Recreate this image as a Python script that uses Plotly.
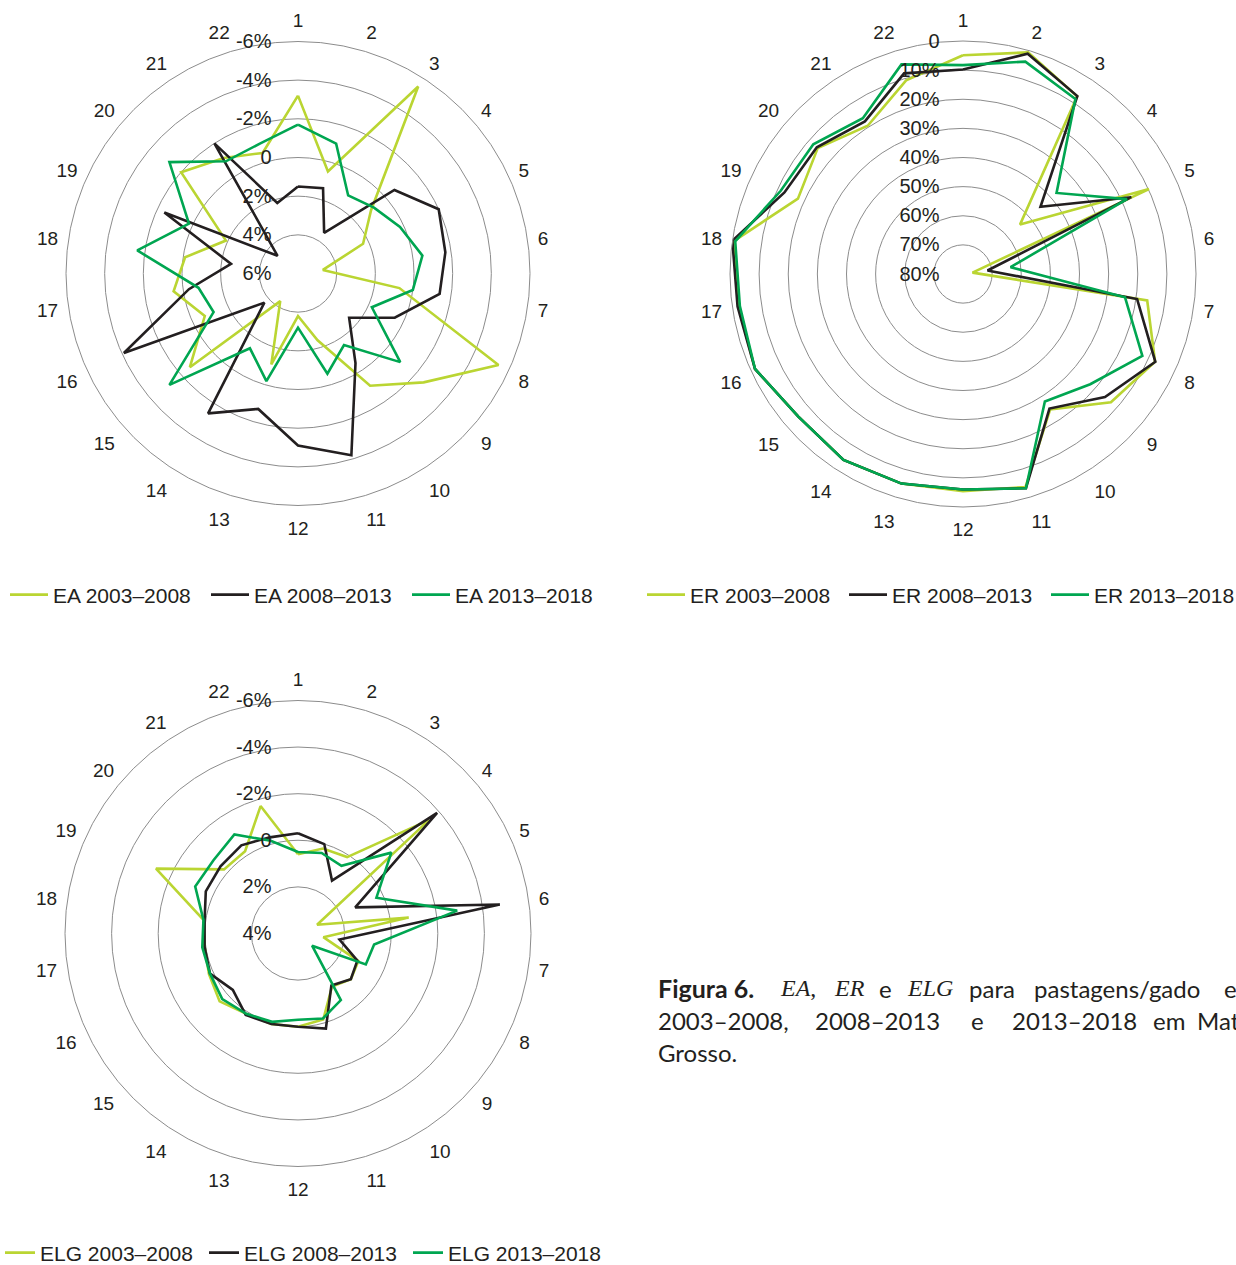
import plotly.graph_objects as go

# Axis categories (22 spokes, clockwise from the top)
categories = [str(i) for i in range(1, 23)]

# EA (%), three periods
ea_2003_2008 = [-3.2, 0.5, -5.5, 1.0, 2.3, 4.7, 0.7, -5.4, -2.6, -0.9, 2.4, 3.8,
                1.1, 4.3, -1.4, 0.7, -0.5, 0.1, 1.9, -2.0, -1.1, -0.5]
ea_2008_2013 = [1.5, 1.4, 3.5, -0.6, -2.0, -1.7, -1.4, 0.5, 2.5, 0.5, -3.8, -2.9,
                -1.3, -2.6, 3.7, -3.9, 0.3, 2.5, -1.6, 4.6, -2.0, 2.2]
ea_2013_2018 = [-1.7, -1.0, 1.2, 0.8, 0.2, -0.5, 0.0, 1.8, -1.0, 1.6, 0.6, 3.2,
                0.2, 1.4, -2.8, 1.2, 0.8, -2.4, -0.2, -2.8, -0.9, -1.0]

# ER (%), three periods
er_2003_2008 = [4.9, 0.7, 7.5, 54.1, 9.8, 76.7, 16.1, 7.5, 12.8, 24.7, 3.8, 5.4,
                5.0, 4.1, 5.2, 1.5, 2.1, 0.5, 17.7, 14.0, 19.5, 10.7]
er_2008_2013 = [9.8, 1.2, 7.4, 44.8, 16.5, 71.5, 19.6, 7.4, 15.5, 25.1, 3.3, 6.0,
                5.0, 4.1, 5.2, 1.5, 1.8, 0.0, 12.6, 13.6, 17.7, 8.2]
er_2013_2018 = [8.3, 4.0, 8.6, 37.5, 18.1, 63.5, 23.8, 12.3, 22.2, 28.0, 3.3, 6.0,
                5.0, 4.1, 5.2, 1.5, 2.6, 1.0, 11.2, 12.0, 16.4, 5.0]

# ELG (%), three periods
elg_2003_2008 = [0.6, 0.2, 0.1, -3.45, 3.1, -0.8, 2.9, 1.15, 1.0, 1.3, 0.15, 0.0,
                 -0.05, -0.1, -0.45, -0.2, -0.05, -0.1, -2.7, -0.2, -0.2, -1.7]
elg_2008_2013 = [-0.3, 0.0, 1.3, -3.9, 1.3, -4.75, 2.2, 1.2, 1.0, 1.35, -0.25, 0.0,
                 -0.05, -0.15, 0.3, -0.15, -0.05, -0.05, -0.35, -0.4, -0.5, -0.3]
elg_2013_2018 = [0.5, 0.4, 0.55, -1.3, 0.3, -2.9, 0.7, 0.8, 3.2, 0.6, 0.2, 0.3,
                 0.05, -0.1, -0.3, -0.15, -0.15, -0.1, -0.85, -0.8, -1.05, -0.15]

periods = ["2003–2008", "2008–2013", "2013–2018"]

# Radial tick labels for each panel
ea_ticks = [-6, -4, -2, 0, 2, 4, 6]
ea_ticktext = ["-6%", "-4%", "-2%", "0", "2%", "4%", "6%"]
er_ticks = [0, 10, 20, 30, 40, 50, 60, 70, 80]
er_ticktext = ["0", "10%", "20%", "30%", "40%", "50%", "60%", "70%", "80%"]
elg_ticks = [-6, -4, -2, 0, 2, 4]
elg_ticktext = ["-6%", "-4%", "-2%", "0", "2%", "4%"]

W, H = 1236, 1265
COLORS = ["#bad532", "#231f20", "#00a651"]
GRID = "#8c8c8c"
TXT = "#231f20"
SANS = "Liberation Sans, Arial, sans-serif"


def domain(cx, cy, R):
    return dict(x=[(cx - R) / W, (cx + R) / W],
                y=[1 - (cy + R) / H, 1 - (cy - R) / H])


def polar_layout(cx, cy, R, rng, tickvals, ticktext, label_gap):
    return dict(
        domain=domain(cx, cy, R),
        bgcolor="rgba(0,0,0,0)",
        angularaxis=dict(
            type="category", categoryorder="array", categoryarray=categories,
            direction="clockwise", rotation=90,
            showgrid=False, showline=True, linecolor=GRID, linewidth=1,
            ticks="outside", ticklen=6, tickcolor="rgba(0,0,0,0)",
            tickfont=dict(family=SANS, size=19, color=TXT),
        ),
        radialaxis=dict(
            range=rng, tickmode="array", tickvals=tickvals, ticktext=ticktext,
            angle=90, tickangle=90, side="counterclockwise",
            showline=False, ticks="outside", ticklen=label_gap,
            tickcolor="rgba(0,0,0,0)", gridcolor=GRID, gridwidth=1,
            tickfont=dict(family=SANS, size=20, color=TXT),
        ),
    )


fig = go.Figure()
theta = categories + categories[:1]

panels = [
    ("polar", "legend", "EA", [ea_2003_2008, ea_2008_2013, ea_2013_2018]),
    ("polar2", "legend2", "ER", [er_2003_2008, er_2008_2013, er_2013_2018]),
    ("polar3", "legend3", "ELG", [elg_2003_2008, elg_2008_2013, elg_2013_2018]),
]
for subplot, legend, prefix, series in panels:
    for vals, period, color in zip(series, periods, COLORS):
        fig.add_trace(go.Scatterpolar(
            r=vals + vals[:1], theta=theta, mode="lines",
            line=dict(color=color, width=2.6),
            name=f"{prefix} {period}", subplot=subplot, legend=legend,
            hoverinfo="skip",
        ))


def legend_layout(x, y, itemwidth, entrywidth):
    return dict(
        orientation="h", x=x, y=y, xanchor="left", yanchor="middle",
        font=dict(family=SANS, size=21, color=TXT), itemwidth=itemwidth,
        entrywidth=entrywidth, bgcolor="rgba(0,0,0,0)", borderwidth=0,
        traceorder="normal", tracegroupgap=0,
    )


# Caption words (justified across the line width)
caption = [
    ("<b>Figura 6.</b>", 656, 988, "Lato", 25),
    ("<i>EA</i>,", 778, 988, "Liberation Serif", 24),
    ("<i>ER</i>", 832, 988, "Liberation Serif", 24),
    ("e", 877, 988, "Lato", 24),
    ("<i>ELG</i>", 905, 988, "Liberation Serif", 24),
    ("para", 967, 988, "Lato", 24),
    ("pastagens/gado", 1032, 988, "Lato", 24),
    ("em", 1222, 988, "Lato", 24),
    ("2003–2008,", 656, 1020, "Lato", 24),
    ("2008–2013", 813, 1020, "Lato", 24),
    ("e", 969, 1020, "Lato", 24),
    ("2013–2018", 1010, 1020, "Lato", 24),
    ("em", 1151, 1020, "Lato", 24),
    ("Mato", 1195, 1020, "Lato", 24),
    ("Grosso.", 656, 1052, "Lato", 24),
]
annotations = [
    dict(text=t, x=px / W, y=1 - py / H, xref="paper", yref="paper",
         xanchor="left", yanchor="middle", showarrow=False,
         font=dict(family=fam, size=sz, color=TXT))
    for t, px, py, fam, sz in caption
]

fig.update_layout(
    width=W, height=H,
    margin=dict(l=0, r=0, t=0, b=0, autoexpand=False),
    paper_bgcolor="white", plot_bgcolor="white",
    polar=polar_layout(298, 273.5, 232, [6, -6], ea_ticks, ea_ticktext, 19),
    polar2=polar_layout(963, 274, 233, [80, 0], er_ticks, er_ticktext, 16),
    polar3=polar_layout(298, 933.5, 233, [4, -6], elg_ticks, elg_ticktext, 19),
    legend=legend_layout(5 / W, 1 - 595 / H, 38, 148),
    legend2=legend_layout(642 / W, 1 - 595 / H, 38, 149),
    legend3=legend_layout(0, 1 - 1253 / H, 30, 159),
    annotations=annotations,
    showlegend=True,
)

fig.write_html("out.html")
